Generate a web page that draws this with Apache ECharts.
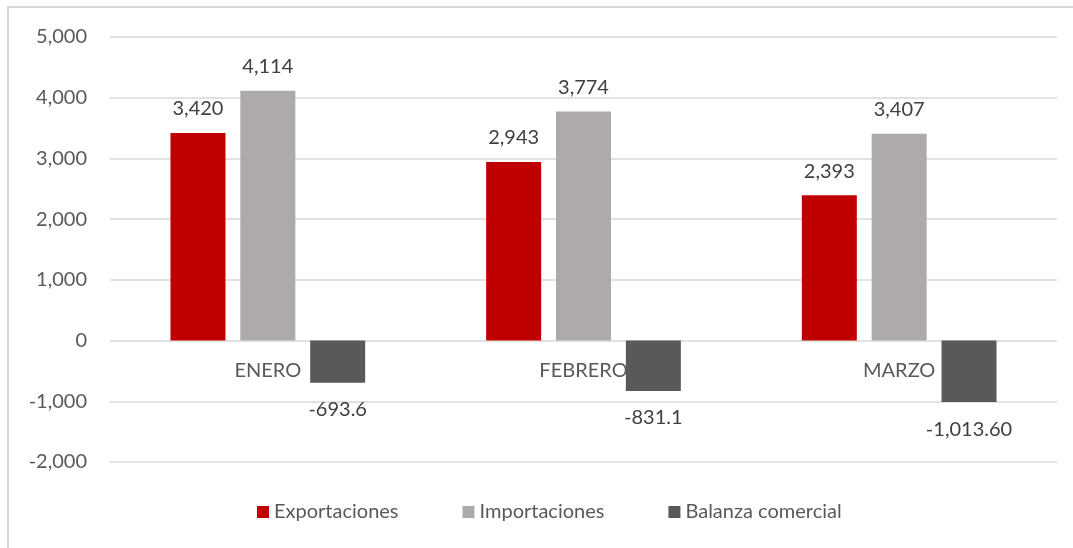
<!DOCTYPE html>
<html>
<head>
<meta charset="utf-8">
<script src="https://cdn.jsdelivr.net/npm/echarts@6/dist/echarts.min.js"></script>
<style>
  html, body { margin: 0; padding: 0; background: #fff; }
  #chart { width: 1073px; height: 548px; }
</style>
</head>
<body>
<div id="chart"></div>
<script>
// datos por mes
var meses = ['ENERO', 'FEBRERO', 'MARZO'];
var exportaciones = [3420, 2943, 2393];
var importaciones = [4114, 3774, 3407];
var balanza = [-693.6, -831.1, -1013.6];
var balanzaTextos = ['-693.6', '-831.1', '-1,013.60'];
var yTicks = { min: -2000, max: 5000, interval: 1000 };

var fuente = 'Lato';

function miles(v) {
    return Math.round(v).toString().replace(/\B(?=(\d{3})+(?!\d))/g, ',');
}

// etiqueta arriba si es positivo, abajo si es negativo
function conEtiqueta(valores, textos) {
    return valores.map(function (v, i) {
        return {
            value: v,
            label: {
                position: v < 0 ? 'bottom' : 'top',
                distance: v < 0 ? 17 : 14,
                formatter: textos ? textos[i] : miles(v)
            }
        };
    });
}

var etiqueta = {
    show: true,
    color: '#404040',
    fontFamily: fuente,
    fontSize: 20
};

var option = {
    animation: false,
    textStyle: { fontFamily: fuente },
    graphic: [{
        type: 'rect',
        shape: { x: 8, y: 7, width: 1200, height: 700 },
        style: { fill: 'none', stroke: '#d9d9d9', lineWidth: 2 },
        silent: true
    }],
    legend: {
        bottom: 21,
        left: 252,
        itemWidth: 12,
        itemHeight: 12,
        itemGap: 64,
        icon: 'rect',
        textStyle: { color: '#595959', fontSize: 20, fontFamily: fuente },
        data: ['Exportaciones', 'Importaciones', 'Balanza comercial']
    },
    grid: {
        left: 110,
        right: 16,
        top: 37,
        bottom: 86,
        containLabel: false
    },
    xAxis: {
        type: 'category',
        data: meses,
        offset: -121,   // los meses van junto a la línea del cero
        axisLine: { show: false },
        axisTick: { show: false },
        axisLabel: {
            color: '#595959',
            fontSize: 20,
            fontFamily: fuente,
            margin: 20
        }
    },
    yAxis: {
        type: 'value',
        min: yTicks.min,
        max: yTicks.max,
        interval: yTicks.interval,
        axisLine: { show: false },
        axisTick: { show: false },
        splitLine: { lineStyle: { color: '#d9d9d9', width: 1.5 } },
        axisLabel: {
            color: '#595959',
            fontSize: 20,
            fontFamily: fuente,
            margin: 23,
            formatter: function (v) { return (v < 0 ? '-' : '') + miles(Math.abs(v)); }
        }
    },
    series: [
        {
            name: 'Exportaciones',
            type: 'bar',
            barWidth: 55,
            barGap: '27%',
            itemStyle: { color: '#C00000' },
            label: etiqueta,
            data: conEtiqueta(exportaciones)
        },
        {
            name: 'Importaciones',
            type: 'bar',
            barWidth: 55,
            barGap: '27%',
            itemStyle: { color: '#AEAAAA' },
            label: etiqueta,
            data: conEtiqueta(importaciones)
        },
        {
            name: 'Balanza comercial',
            type: 'bar',
            barWidth: 55,
            barGap: '27%',
            itemStyle: { color: '#595959' },
            label: etiqueta,
            data: conEtiqueta(balanza, balanzaTextos)
        }
    ]
};

echarts.init(document.getElementById('chart')).setOption(option);
</script>
</body>
</html>
